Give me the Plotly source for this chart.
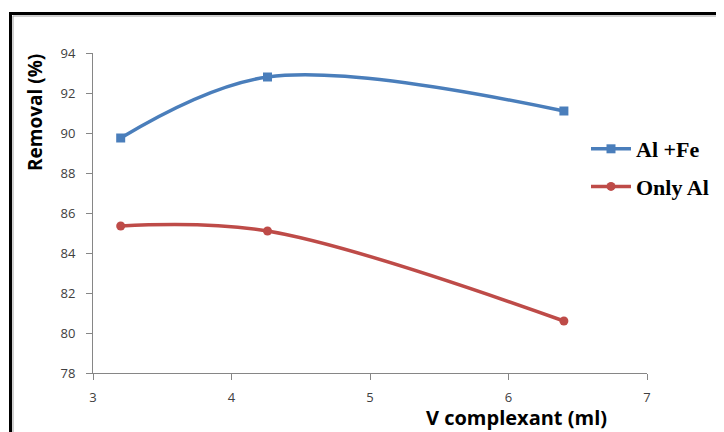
import plotly.graph_objects as go

x_vals = [3.2, 4.26, 6.4]
al_fe = [89.75, 92.8, 91.1]
only_al = [85.35, 85.1, 80.6]
series_names = ["Al +Fe", "Only Al"]
x_ticks = [3, 4, 5, 6, 7]
y_ticks = [78, 80, 82, 84, 86, 88, 90, 92, 94]

OFF = 8  # default page body margin
W, H = 724, 432
L, T = 85, 45
pw, ph = 554, 320
R = W - L - pw
B = H - T - ph

def px(page_x):
    return (page_x - OFF - L) / pw

def py(page_y):
    return (H - B - (page_y - OFF)) / ph

fig = go.Figure()
fig.add_trace(go.Scatter(x=x_vals, y=al_fe, name=series_names[0], mode="lines+markers",
                         legendgroup="g1",
                         line=dict(color="#4a7ebb", width=3.5, shape="spline", smoothing=1.0),
                         marker=dict(symbol="square", size=9, color="#4a7ebb")))
fig.add_trace(go.Scatter(x=x_vals, y=only_al, name=series_names[1], mode="lines+markers",
                         legendgroup="g2",
                         line=dict(color="#be4b48", width=3.5, shape="spline", smoothing=1.0),
                         marker=dict(symbol="circle", size=9, color="#be4b48")))

axis_common = dict(showgrid=False, zeroline=False, showline=True, linecolor="#868686", linewidth=1,
                   ticks="outside", ticklen=6, tickcolor="#868686",
                   tickfont=dict(family="Open Sans", size=13, color="#404040"))
fig.update_xaxes(range=[3, 7], tickvals=x_ticks, ticklabelstandoff=6, **axis_common)
fig.update_yaxes(range=[78, 94], tickvals=y_ticks, ticklabelstandoff=8, **axis_common)

fig.update_layout(
    width=W, height=H,
    margin=dict(l=L, r=R, t=T, b=B),
    plot_bgcolor="white", paper_bgcolor="white",
    showlegend=True,
    legend=dict(x=px(586), y=py(128), xanchor="left", yanchor="top",
                font=dict(family="Liberation Serif", size=22, color="black", weight="bold"),
                bgcolor="rgba(0,0,0,0)", tracegroupgap=6, itemwidth=40, traceorder="grouped"),
    annotations=[
        dict(text="<b>V complexant (ml)</b>", x=px(516), y=py(417), xref="paper", yref="paper",
             showarrow=False, font=dict(family="Open Sans", size=20, color="black"),
             xanchor="center", yanchor="middle"),
        dict(text="<b>Removal (%)</b>", x=px(35), y=py(113), xref="paper", yref="paper",
             showarrow=False, textangle=-90, font=dict(family="Open Sans", size=19, color="black"),
             xanchor="center", yanchor="middle"),
    ],
    shapes=[
        dict(type="rect", xref="paper", yref="paper", x0=px(10.5), y0=py(450), x1=px(750), y1=py(13.5),
             line=dict(color="black", width=3), fillcolor="rgba(0,0,0,0)", layer="above"),
        dict(type="rect", xref="paper", yref="paper", x0=px(13), y0=py(450), x1=px(750), y1=py(16),
             line=dict(color="#a0a0a0", width=1), fillcolor="rgba(0,0,0,0)", layer="above"),
    ],
)

fig.write_html("out.html")
